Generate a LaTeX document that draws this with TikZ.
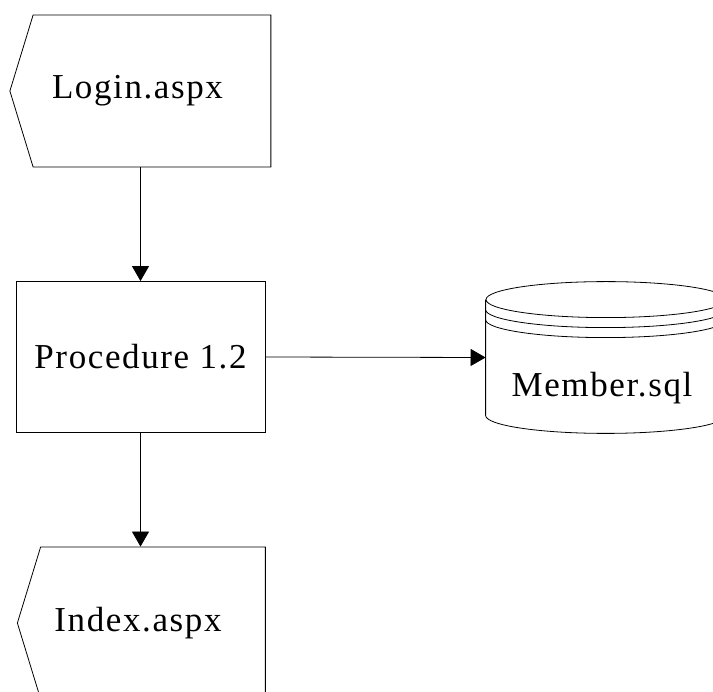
\documentclass[tikz,border=0pt]{standalone}
\usepackage{fontspec}
\newfontfamily\labelfont{Liberation Serif}[LetterSpace=4.6]
\usetikzlibrary{shapes.symbols,arrows.meta}

\begin{document}
\begin{tikzpicture}[x=1pt,y=-1pt, line width=0.8pt,
  every node/.style={font=\labelfont\fontsize{35}{42}\selectfont, inner sep=0pt},
  pagebox/.style={signal, signal to=west, signal pointer angle=146, draw, minimum height=152},
  procbox/.style={rectangle, draw, minimum width=249, minimum height=151},
  flow/.style={-{Triangle[length=15pt,width=17pt]}}]
  \useasboundingbox (0,0) rectangle (713,692);

  % pages and process
  \node (login) [pagebox, minimum width=261] at (152,91) {};
  \node (loginlabel) at (137.5,91) {Login.aspx};
  \node (proc) [procbox] at (140.5,357) {Procedure 1.2};
  \node (index) [pagebox, minimum width=248] at (153,623) {};
  \node (indexlabel) at (138,623) {Index.aspx};

  % data store
  \node (member) [minimum width=240, minimum height=115] at (606,357.5) {};
  \draw (member.north west) -- (member.south west)
    arc[start angle=180, end angle=0, x radius=120, y radius=18] -- (member.north east);
  \draw (member.north) ellipse [x radius=120, y radius=18];
  \foreach \d in {10,20}
    \draw ([yshift=-\d pt]member.north west) arc[start angle=180, end angle=0, x radius=120, y radius=18];
  \node (memberlabel) at (602,388) {Member.sql};

  % connectors
  \draw [flow] (proc.north |- login.south) -- (proc.north);
  \draw [flow] (proc.east) -- (member.west);
  \draw [flow] (proc.south) -- (proc.south |- index.north);
\end{tikzpicture}
\end{document}
